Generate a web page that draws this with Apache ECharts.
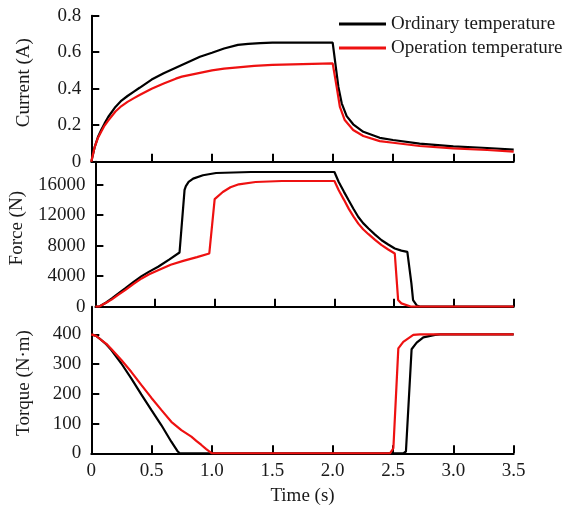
<!DOCTYPE html>
<html>
<head>
<meta charset="utf-8">
<script src="https://cdn.jsdelivr.net/npm/echarts@6/dist/echarts.min.js"></script>
<style>html,body{margin:0;padding:0;background:#fff}#c{width:569px;height:508px}</style>
</head>
<body>
<div id="c"></div>
<script>
const seriesNames = ['Ordinary temperature', 'Operation temperature'];
const xTicks = [0, 0.5, 1.0, 1.5, 2.0, 2.5, 3.0, 3.5];
const yNames = ['Current (A)', 'Force (N)', 'Torque (N\u00b7m)'];

const currentOrdinary = [[0,0],[0.028,0.08],[0.055,0.135],[0.083,0.175],[0.11,0.21],[0.14,0.245],[0.2,0.30],[0.25,0.335],[0.3,0.36],[0.35,0.383],[0.4,0.405],[0.5,0.45],[0.6,0.485],[0.7,0.515],[0.75,0.53],[0.85,0.56],[0.9,0.575],[1.0,0.597],[1.1,0.62],[1.215,0.64],[1.3,0.646],[1.4,0.65],[1.5,0.652],[2.0,0.652],[2.047,0.411],[2.075,0.32],[2.116,0.25],[2.17,0.205],[2.254,0.164],[2.39,0.131],[2.5,0.119],[2.72,0.099],[3.0,0.084],[3.28,0.075],[3.5,0.066]];
const currentOperation = [[0,0],[0.028,0.08],[0.055,0.13],[0.083,0.165],[0.11,0.198],[0.14,0.225],[0.2,0.275],[0.25,0.305],[0.3,0.328],[0.35,0.347],[0.4,0.365],[0.5,0.40],[0.6,0.428],[0.7,0.455],[0.75,0.466],[0.85,0.48],[1.0,0.50],[1.1,0.51],[1.215,0.517],[1.35,0.525],[1.5,0.531],[1.75,0.535],[2.0,0.539],[2.033,0.41],[2.06,0.30],[2.10,0.228],[2.17,0.174],[2.254,0.141],[2.39,0.113],[2.5,0.104],[2.72,0.086],[3.0,0.073],[3.28,0.064],[3.5,0.055]];

const forceOrdinary = [[0,0],[0.03,0],[0.055,220],[0.09,550],[0.138,1090],[0.19,1700],[0.249,2400],[0.32,3250],[0.387,4000],[0.45,4600],[0.525,5230],[0.62,6200],[0.704,7100],[0.746,15300],[0.757,15800],[0.78,16350],[0.818,16780],[0.9,17220],[1.01,17520],[1.3,17650],[2.0,17650],[2.036,16340],[2.08,15050],[2.119,13940],[2.16,12800],[2.2,11760],[2.24,10950],[2.285,10240],[2.34,9450],[2.395,8710],[2.45,8150],[2.505,7620],[2.56,7350],[2.61,7190],[2.644,3050],[2.658,870],[2.69,150],[2.72,0],[3.5,0]];
const forceOperation = [[0,0],[0.03,0],[0.055,218],[0.09,520],[0.138,960],[0.19,1550],[0.249,2180],[0.32,2980],[0.387,3700],[0.45,4250],[0.525,4790],[0.63,5500],[0.735,6000],[0.85,6500],[0.953,6970],[0.998,14100],[1.066,15030],[1.13,15650],[1.2,16040],[1.34,16340],[1.56,16470],[2.0,16470],[2.036,15250],[2.08,14000],[2.119,12850],[2.16,11800],[2.2,10890],[2.24,10150],[2.285,9500],[2.34,8750],[2.395,8060],[2.45,7500],[2.505,6970],[2.533,870],[2.56,436],[2.644,0],[3.5,0]];

const torqueOrdinary = [[0,400],[0.04,395],[0.083,381],[0.125,366],[0.166,347],[0.249,302],[0.331,252],[0.414,198],[0.497,146],[0.58,95],[0.663,39],[0.713,8],[0.732,0],[2.585,0],[2.607,6],[2.654,350],[2.696,372],[2.751,390],[2.848,398],[2.89,400],[3.5,400]];
const torqueOperation = [[0,400],[0.04,395],[0.083,381],[0.125,368],[0.166,351],[0.249,314],[0.331,274],[0.414,230],[0.497,187],[0.58,146],[0.663,106],[0.746,78],[0.829,56],[0.87,42],[0.912,28],[0.95,15],[0.98,6],[1.0,0],[2.475,0],[2.503,17],[2.544,353],[2.585,375],[2.668,398],[2.723,400],[3.5,400]];

const FONT = "'Liberation Serif','Times New Roman',serif";
const TXT = '#1a1a1a';
const colors = ['#000000', '#ee1111'];

const chart = echarts.init(document.getElementById('c'), null, {renderer: 'canvas'});

const grids = [
  {left: 91.3, width: 422.4, top: 15.7, height: 146},
  {left: 91.3, width: 422.4, top: 161.7, height: 145},
  {left: 91.3, width: 422.4, top: 306.7, height: 146.6}
];

function xAxis(i) {
  const last = i === 2;
  return {
    type: 'value', gridIndex: i, min: 0, max: 3.5, interval: 0.5,
    axisLine: {show: true, lineStyle: {color: '#000', width: 2}},
    axisTick: {show: true, inside: true, length: 8, lineStyle: {color: '#000', width: 2}},
    splitLine: {show: false},
    axisLabel: {show: last, margin: 8, fontFamily: FONT, fontSize: 19, color: TXT,
      formatter: v => (v === 0 ? '0' : v.toFixed(1))},
    name: last ? 'Time (s)' : '', nameLocation: 'middle', nameGap: 33,
    nameTextStyle: {fontFamily: FONT, fontSize: 19, color: TXT}
  };
}
const yCfg = [
  {min: 0, max: 0.8, interval: 0.2, fmt: v => (v === 0 ? '0' : v.toFixed(1)), pad: [0,0,0,12]},
  {min: 0, max: 19000, interval: 4000, fmt: v => String(v), pad: [0,0,0,12]},
  {min: 0, max: 493, interval: 100, fmt: v => String(v), pad: [0,6,0,0]}
];
function yAxis(i) {
  const c = yCfg[i];
  return {
    type: 'value', gridIndex: i, min: c.min, max: c.max, interval: c.interval,
    axisLine: {show: true, lineStyle: {color: '#000', width: 2}},
    axisTick: {show: true, inside: true, length: 8, lineStyle: {color: '#000', width: 2}},
    splitLine: {show: false},
    axisLabel: {margin: 10, fontFamily: FONT, fontSize: 19, color: TXT, formatter: c.fmt,
      showMaxLabel: i === 0},
    name: yNames[i], nameLocation: 'middle', nameGap: 58,
    nameTextStyle: {fontFamily: FONT, fontSize: 19, color: TXT, padding: c.pad}
  };
}

const dataSets = [
  [currentOrdinary, currentOperation],
  [forceOrdinary, forceOperation],
  [torqueOrdinary, torqueOperation]
];
const series = [];
dataSets.forEach((pair, gi) => {
  pair.forEach((d, si) => {
    series.push({
      name: seriesNames[si], type: 'line', xAxisIndex: gi, yAxisIndex: gi,
      data: d, symbol: 'none', smooth: false, animation: false,
      lineStyle: {color: colors[si], width: 2.2}, itemStyle: {color: colors[si]}
    });
  });
});

chart.setOption({
  backgroundColor: '#fff',
  animation: false,
  grid: grids,
  xAxis: [0,1,2].map(xAxis),
  yAxis: [0,1,2].map(yAxis),
  legend: {
    data: seriesNames.map(n => ({name: n, icon: 'rect'})),
    orient: 'vertical', left: 339, top: 14, padding: 0,
    itemWidth: 47, itemHeight: 3, itemGap: 4,
    textStyle: {fontFamily: FONT, fontSize: 19, color: TXT, lineHeight: 20}
  },
  series: series
});
</script>
</body>
</html>
